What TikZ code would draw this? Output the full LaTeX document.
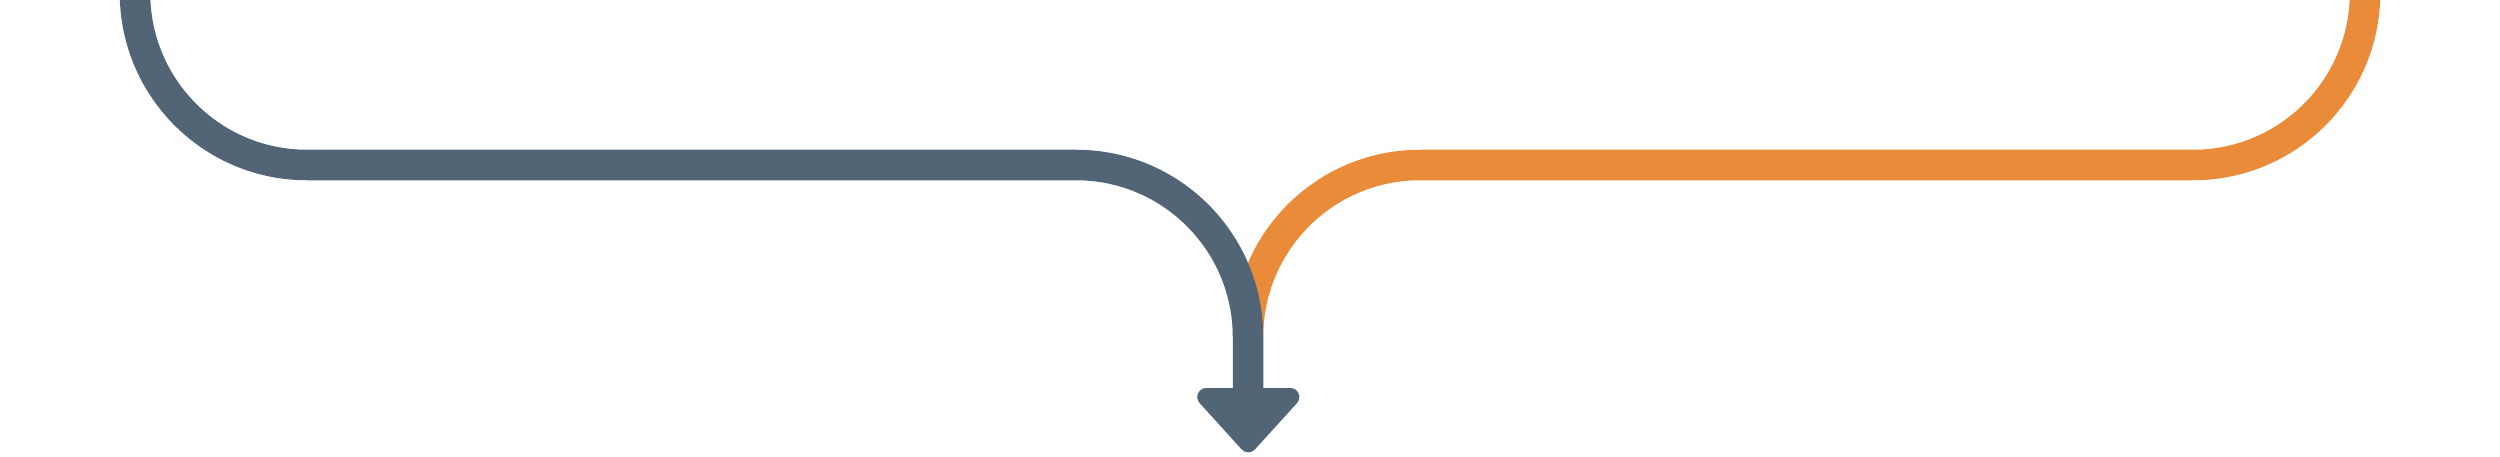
\documentclass[tikz,border=0pt]{standalone}
\definecolor{slategray}{HTML}{526576}
\definecolor{flowor}{HTML}{EA8B3A}
\begin{document}
\begin{tikzpicture}[x=1pt,y=1pt,
  flow/.style={line width=30.5pt},
  tipshape/.style={fill=slategray, draw=slategray, line width=18pt, line join=round}]
\useasboundingbox (0,0) rectangle (2500,456);
% named points (y up, pixels)
\coordinate (gstart) at (135,480);
\coordinate (gtop) at (135,463);
\coordinate (gleft) at (307,291);
\coordinate (gmid) at (1076,291);
\coordinate (merge) at (1248,119);
\coordinate (stemend) at (1248,60);
\coordinate (ostart) at (2365,480);
\coordinate (otop) at (2365,463);
\coordinate (oright) at (2193,291);
\coordinate (omid) at (1420,291);
\coordinate (tl) at (1206.3,59);
\coordinate (tr) at (1290.3,59);
\coordinate (tip) at (1248.3,12.7);
% orange branch
\draw[flow, flowor] (ostart) -- (otop) arc[start angle=0, end angle=-90, radius=172] -- (omid)
  arc[start angle=90, end angle=180, radius=172];
% gray branch
\draw[flow, slategray] (gstart) -- (gtop) arc[start angle=180, end angle=270, radius=172] -- (gmid)
  arc[start angle=90, end angle=0, radius=172] -- (stemend);
% arrowhead
\path[tipshape] (tl) -- (tr) -- (tip) -- cycle;
\end{tikzpicture}
\end{document}
